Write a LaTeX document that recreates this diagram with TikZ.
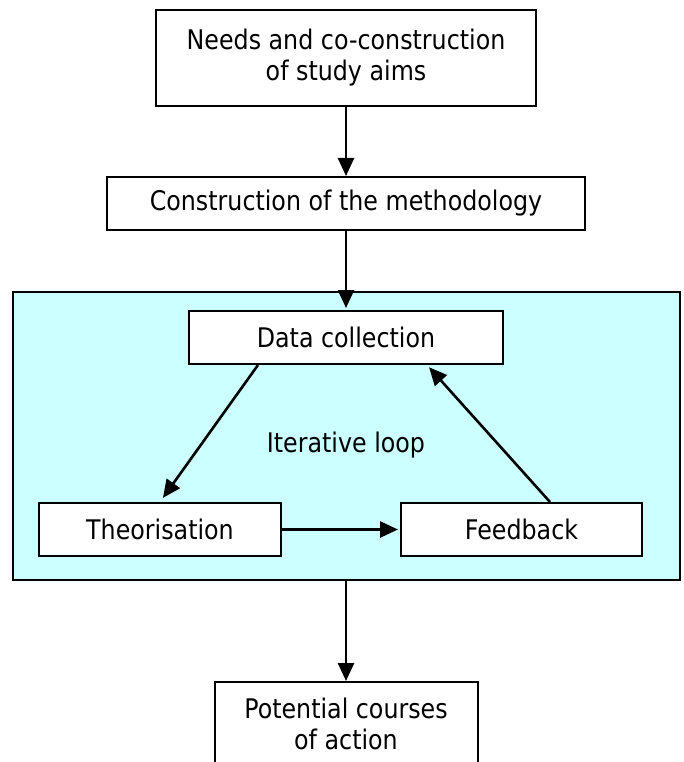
\documentclass[tikz,border=0pt]{standalone}
\usepackage{fontspec}
\setmainfont{DejaVu Sans}[FakeStretch=0.88]
\usetikzlibrary{arrows.meta,calc}
\definecolor{loopbg}{RGB}{204,255,255}
\begin{document}
\begin{tikzpicture}[x=1pt,y=-1pt,
  box/.style={draw=black,line width=2pt,fill=white,rectangle,inner sep=0pt,align=center,font=\fontsize{27}{31}\selectfont},
  arr/.style={line width=2.6pt,-{Triangle[length=18pt,width=16pt]}}]
\useasboundingbox (0,0) rectangle (683,762);
\node[draw=black,line width=2pt,fill=loopbg,rectangle,minimum width=667pt,minimum height=288pt,inner sep=0pt] (loop) at (346,436) {};
\node[box,minimum width=380pt,minimum height=96pt] (needs) at (346,58) {Needs and co-construction\\of study aims};
\node[box,minimum width=478pt,minimum height=53pt] (method) at (346,203.5) {Construction of the methodology};
\node[box,minimum width=314pt,minimum height=53pt] (data) at (346,337.5) {Data collection};
\node[box,minimum width=242pt,minimum height=53pt] (theo) at (160,529.5) {Theorisation};
\node[box,minimum width=241pt,minimum height=53pt] (feed) at (521.5,529.5) {Feedback};
\node[box,minimum width=263pt,minimum height=84pt] (pot) at (346,724) {Potential courses\\of action};
\node[font=\fontsize{27}{31}\selectfont] (iter) at (346,445) {Iterative loop};
\draw[arr] (needs.south) -- (method.north);
\draw[arr] (method.south) -- ($(data.north)+(0,-2)$);
\draw[arr,shorten >=5pt] ($(data.south west)+(70,0)$) -- (theo.north);
\draw[arr,shorten >=3pt] ($(feed.north)+(28.5,0)$) -- ($(data.south)+(81,0)$);
\draw[arr,shorten >=2pt] (theo.east) -- (feed.west);
\draw[arr] (loop.south) -- (pot.north);
\end{tikzpicture}
\end{document}
